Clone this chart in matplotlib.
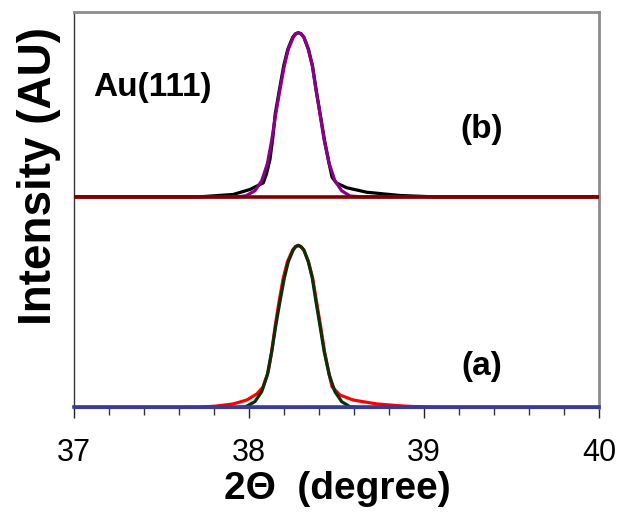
import numpy as np
import matplotlib
matplotlib.use('Agg')
from matplotlib import pyplot as plt
from matplotlib.ticker import MultipleLocator

plt.rcParams['font.family'] = ['Liberation Sans', 'DejaVu Sans']

# (a) measured profile and fit, intensity in arbitrary units
tth_a_meas = [37.00, 37.60, 37.72, 37.815, 37.91, 37.987, 38.044, 38.080, 38.110, 38.130,
              38.150, 38.172, 38.196, 38.220, 38.250, 38.265, 38.280, 38.296, 38.313, 38.340,
              38.364, 38.386, 38.409, 38.432, 38.458, 38.475, 38.520, 38.596, 38.730, 38.880,
              39.050, 39.200, 40.00]
int_a_meas = [0, 0, 0.2, 0.9, 2.2, 4.6, 8.3, 12.5, 22.0, 34.4,
              50.3, 65.3, 79.8, 90.0, 97.2, 99.2, 100.0, 99.2, 97.2, 90.0,
              79.8, 65.3, 50.3, 34.4, 20.5, 12.8, 7.7, 4.6, 2.2, 0.9,
              0.1, 0, 0]

tth_a_fit = [37.00, 37.937, 37.983, 38.034, 38.073, 38.105, 38.130, 38.153, 38.177, 38.202,
             38.225, 38.253, 38.268, 38.282, 38.297, 38.314, 38.339, 38.362, 38.383, 38.406,
             38.430, 38.459, 38.491, 38.530, 38.577, 38.634, 40.00]
int_a_fit = [0, 0, 0.6, 3.6, 9.8, 20.1, 34.4, 50.3, 65.3, 79.8,
             90.0, 97.2, 99.3, 100.0, 99.3, 97.2, 90.0, 79.8, 65.3, 50.3,
             34.4, 20.1, 9.8, 3.6, 0.5, 0, 0]

# (b) measured profile and fit, plotted on top of an offset
tth_b_meas = [37.00, 37.72, 37.909, 38.006, 38.082, 38.100, 38.120, 38.136, 38.150, 38.174,
              38.199, 38.222, 38.250, 38.266, 38.282, 38.298, 38.314, 38.340, 38.363, 38.384,
              38.407, 38.432, 38.456, 38.475, 38.500, 38.558, 38.673, 38.863, 39.050, 40.00]
int_b_meas = [0, 0, 1.4, 4.5, 8.6, 14.0, 23.0, 36.0, 51.0, 66.0,
              81.0, 91.0, 98.4, 100.6, 101.2, 100.6, 98.4, 91.0, 80.8, 66.0,
              51.0, 34.8, 21.5, 12.0, 8.5, 5.6, 2.8, 0.8, 0, 0]

tth_b_fit = [37.00, 37.937, 37.983, 38.034, 38.073, 38.105, 38.130, 38.153, 38.177, 38.202,
             38.225, 38.253, 38.268, 38.282, 38.297, 38.314, 38.339, 38.362, 38.383, 38.406,
             38.430, 38.459, 38.491, 38.530, 38.577, 38.634, 40.00]
int_b_fit = [0, 0, 0.6, 3.7, 9.9, 20.3, 34.8, 51.0, 66.0, 80.8,
             91.0, 98.4, 100.5, 101.2, 100.5, 98.4, 91.0, 80.8, 66.0, 51.0,
             34.8, 20.3, 9.9, 3.7, 0.5, 0, 0]

offset_b = 130.0

fig = plt.figure(figsize=(6.21, 5.19), dpi=100)
ax = fig.add_axes([0.119, 0.2139, 0.8456, 0.763])

lw = 2.3
ax.plot(tth_a_meas, int_a_meas, color='#ff0000', lw=lw, zorder=2)
ax.plot(tth_a_fit, int_a_fit, color='#0a300a', lw=lw, zorder=3)
ax.plot(tth_b_meas, np.array(int_b_meas) + offset_b, color='black', lw=lw, zorder=2)
ax.plot(tth_b_fit, np.array(int_b_fit) + offset_b, color='#8b008b', lw=lw, zorder=3)

# baselines
ax.axhline(offset_b, color='#800000', lw=2.6, zorder=4)
ax.axhline(0, color='#3a3a9a', lw=2.6, zorder=4, clip_on=False)

ax.set_xlim(37, 40)
ax.set_ylim(-0.3, 244)

ax.xaxis.set_major_locator(MultipleLocator(1))
ax.xaxis.set_minor_locator(MultipleLocator(0.2))
ax.tick_params(axis='x', which='major', direction='out', length=7.5, width=1,
               color='#222222', labelsize=22, pad=14)
ax.tick_params(axis='x', which='minor', direction='out', length=4.8, width=1,
               color='#333333')
ax.set_yticks([])

ax.spines['left'].set_color('#333333')
ax.spines['left'].set_linewidth(1.0)
ax.spines['bottom'].set_color('#3a3a9a')
ax.spines['top'].set_color('#8c8c8c')
ax.spines['top'].set_linewidth(2.0)
ax.spines['right'].set_color('#8c8c8c')
ax.spines['right'].set_linewidth(2.0)

ax.set_xlabel('2\u0398  (degree)', fontsize=28, fontweight='bold', va='center')
ax.xaxis.set_label_coords(0.501, -0.205)
ax.set_ylabel('Intensity (AU)', fontsize=33, fontweight='bold', va='center')
ax.yaxis.set_label_coords(-0.066, 0.586)

ax.text(37.446, 197.2, 'Au(111)', fontsize=24, fontweight='bold', ha='center', va='center')
ax.text(39.33, 171.3, '(b)', fontsize=24, fontweight='bold', ha='center', va='center')
ax.text(39.33, 25.6, '(a)', fontsize=24, fontweight='bold', ha='center', va='center')

fig.savefig('out.png', dpi=100)
